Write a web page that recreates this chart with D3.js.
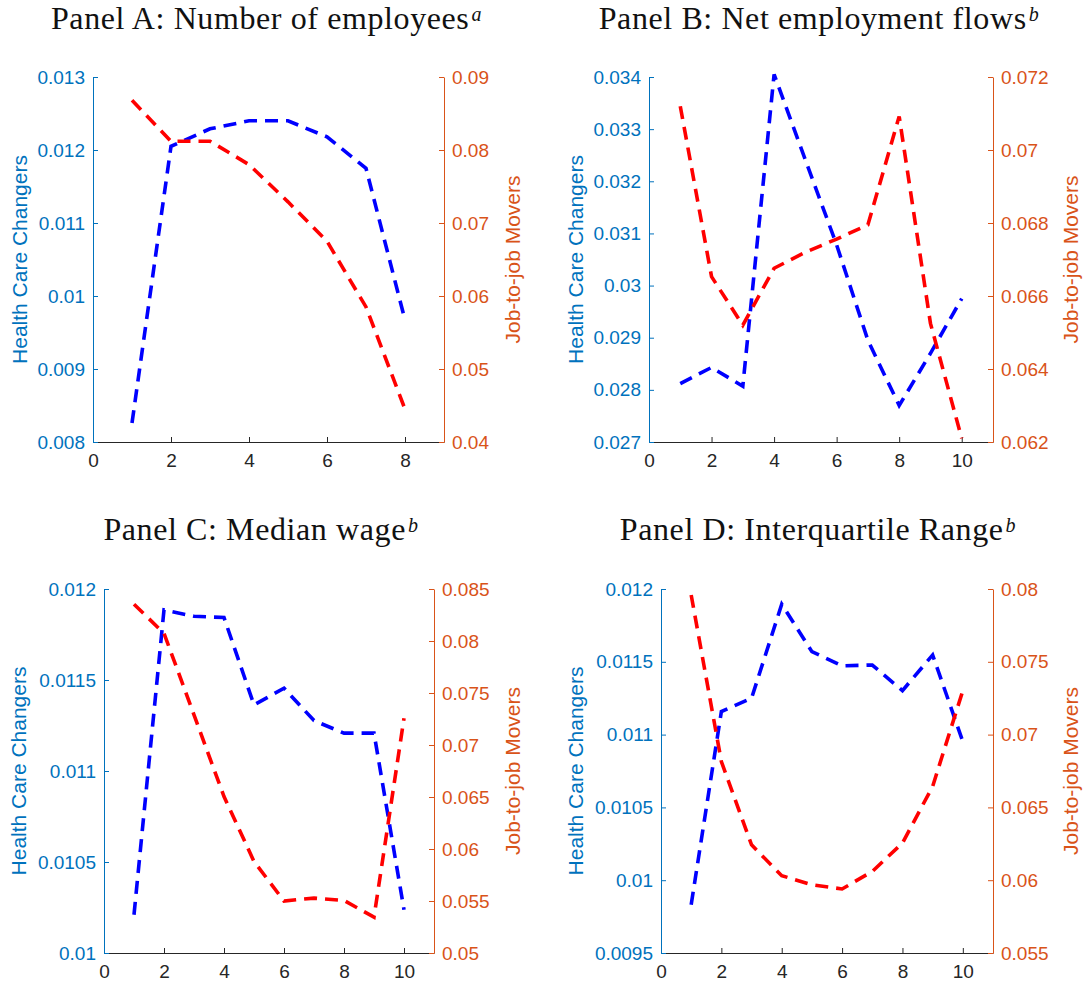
<!DOCTYPE html>
<html>
<head>
<meta charset="utf-8">
<script src="https://cdn.jsdelivr.net/npm/d3@7"></script>
<style>
  body { margin: 0; background: #fff; }
  svg { display: block; }
</style>
</head>
<body>
<svg id="chart" width="1087" height="989"></svg>
<script>
// ---- Data -------------------------------------------------------------
// Panel A: number of employees (groups 1..8)
const xA = [1, 2, 3, 4, 5, 6, 7, 8];
const healthA = [0.00826, 0.01205, 0.01229, 0.01240, 0.01240, 0.01218, 0.01175, 0.00967];
const moversA = [0.0868, 0.0812, 0.0812, 0.0780, 0.0729, 0.0675, 0.0585, 0.0445];

// Panel B: net employment flows (groups 1..10)
const xB = [1, 2, 3, 4, 5, 6, 7, 8, 9, 10];
const healthB = [0.02812, 0.02843, 0.02807, 0.03405, 0.03241, 0.03078, 0.02895, 0.02770, 0.02870, 0.02975];
const moversB = [0.0712, 0.06653, 0.0652, 0.06676, 0.0672, 0.06756, 0.06795, 0.07092, 0.06525, 0.0621];

// Panel C: median wage (groups 1..10)
const xC = [1, 2, 3, 4, 5, 6, 7, 8, 9, 10];
const healthC = [0.01021, 0.011885, 0.01185, 0.011843, 0.011363, 0.011455, 0.011277, 0.011208, 0.011208, 0.010238];
const moversC = [0.08353, 0.08074, 0.0729, 0.06504, 0.0588, 0.0550, 0.05528, 0.05505, 0.05345, 0.07257];

// Panel D: interquartile range (groups 1..10)
const xD = [1, 2, 3, 4, 5, 6, 7, 8, 9, 10];
const healthD = [0.009832, 0.011158, 0.01125, 0.011895, 0.01157, 0.011472, 0.011478, 0.011302, 0.011547, 0.010952];
const moversD = [0.07959, 0.06815, 0.06243, 0.06031, 0.05969, 0.0594, 0.0606, 0.06255, 0.06644, 0.07302];

// Tick values and labels
const xTicksA = [0, 2, 4, 6, 8];
const xTicksBCD = [0, 2, 4, 6, 8, 10];

const leftTicksA = [0.008, 0.009, 0.010, 0.011, 0.012, 0.013];
const leftLabelsA = ["0.008", "0.009", "0.01", "0.011", "0.012", "0.013"];
const rightTicksA = [0.04, 0.05, 0.06, 0.07, 0.08, 0.09];
const rightLabelsA = ["0.04", "0.05", "0.06", "0.07", "0.08", "0.09"];

const leftTicksB = [0.027, 0.028, 0.029, 0.030, 0.031, 0.032, 0.033, 0.034];
const leftLabelsB = ["0.027", "0.028", "0.029", "0.03", "0.031", "0.032", "0.033", "0.034"];
const rightTicksB = [0.062, 0.064, 0.066, 0.068, 0.070, 0.072];
const rightLabelsB = ["0.062", "0.064", "0.066", "0.068", "0.07", "0.072"];

const leftTicksC = [0.010, 0.0105, 0.011, 0.0115, 0.012];
const leftLabelsC = ["0.01", "0.0105", "0.011", "0.0115", "0.012"];
const rightTicksC = [0.05, 0.055, 0.06, 0.065, 0.07, 0.075, 0.08, 0.085];
const rightLabelsC = ["0.05", "0.055", "0.06", "0.065", "0.07", "0.075", "0.08", "0.085"];

const leftTicksD = [0.0095, 0.010, 0.0105, 0.011, 0.0115, 0.012];
const leftLabelsD = ["0.0095", "0.01", "0.0105", "0.011", "0.0115", "0.012"];
const rightTicksD = [0.055, 0.06, 0.065, 0.07, 0.075, 0.08];
const rightLabelsD = ["0.055", "0.06", "0.065", "0.07", "0.075", "0.08"];

// ---- Styling ------------------------------------------------------------
const LEFT_AXIS_COLOR = "#0072BD";
const RIGHT_AXIS_COLOR = "#D95319";
const X_AXIS_COLOR = "#262626";
const HEALTH_LINE = "#0000FF";
const MOVERS_LINE = "#FF0000";
const SANS = "'Liberation Sans', Arial, Helvetica, sans-serif";
const SERIF = "'Liberation Serif', 'Times New Roman', serif";

const svg = d3.select("#chart");

function drawPanel(p) {
  const g = svg.append("g");
  const x = d3.scaleLinear().domain(p.xDomain).range([p.left, p.right]);
  const yL = d3.scaleLinear().domain(p.leftDomain).range([p.bottom, p.top]);
  const yR = d3.scaleLinear().domain(p.rightDomain).range([p.bottom, p.top]);

  // Axes (ticks point inward, MATLAB style)
  const axL = d3.axisLeft(yL).tickValues(p.leftTicks)
    .tickFormat((d, i) => p.leftLabels[i]).tickSizeInner(-5).tickSizeOuter(0).tickPadding(8);
  const axR = d3.axisRight(yR).tickValues(p.rightTicks)
    .tickFormat((d, i) => p.rightLabels[i]).tickSizeInner(-5).tickSizeOuter(0).tickPadding(8);
  const axX = d3.axisBottom(x).tickValues(p.xTicks)
    .tickFormat(d3.format("d")).tickSizeInner(-5).tickSizeOuter(0).tickPadding(9);

  function style(sel, color) {
    sel.selectAll("path").attr("stroke", color).attr("stroke-width", 1);
    sel.selectAll("line").attr("stroke", color).attr("stroke-width", 1);
    sel.selectAll("text").attr("fill", color)
      .style("font-family", SANS).style("font-size", "19px");
  }

  const gx = g.append("g").attr("transform", `translate(0,${p.bottom})`).call(axX);
  style(gx, X_AXIS_COLOR);
  gx.selectAll("text").attr("dy", "0.85em");
  const gl = g.append("g").attr("transform", `translate(${p.left},0)`).call(axL);
  style(gl, LEFT_AXIS_COLOR);
  const gr = g.append("g").attr("transform", `translate(${p.right},0)`).call(axR);
  style(gr, RIGHT_AXIS_COLOR);

  // Axis titles
  const midY = (p.top + p.bottom) / 2;
  g.append("text")
    .attr("transform", `translate(${p.leftLabelX},${midY}) rotate(-90)`)
    .attr("text-anchor", "middle").attr("dominant-baseline", "central")
    .attr("fill", LEFT_AXIS_COLOR).style("font-family", SANS).style("font-size", "21px")
    .text("Health Care Changers");
  g.append("text")
    .attr("transform", `translate(${p.rightLabelX},${midY}) rotate(-90)`)
    .attr("text-anchor", "middle").attr("dominant-baseline", "central")
    .attr("fill", RIGHT_AXIS_COLOR).style("font-family", SANS).style("font-size", "21px")
    .text("Job-to-job Movers");

  // Series
  const lineL = d3.line().x((d, i) => x(p.xs[i])).y(d => yL(d));
  const lineR = d3.line().x((d, i) => x(p.xs[i])).y(d => yR(d));
  g.append("path").datum(p.health).attr("d", lineL)
    .attr("fill", "none").attr("stroke", HEALTH_LINE).attr("stroke-width", 3.6)
    .attr("stroke-dasharray", "13 8");
  g.append("path").datum(p.movers).attr("d", lineR)
    .attr("fill", "none").attr("stroke", MOVERS_LINE).attr("stroke-width", 3.6)
    .attr("stroke-dasharray", "13 8");

  // Panel title with superscript note marker
  const t = g.append("text")
    .attr("x", (p.left + p.right) / 2 + p.titleShift).attr("y", p.titleY)
    .attr("text-anchor", "middle").attr("fill", "#111")
    .style("font-family", SERIF).style("font-size", "32px")
    .style("letter-spacing", "0.6px");
  t.append("tspan").text(p.title);
  t.append("tspan").attr("dy", "-8").attr("dx", "2").style("font-size", "20px")
    .style("font-style", "italic").text(p.note);
}

drawPanel({
  left: 93, right: 444, top: 77, bottom: 442, titleY: 29, titleShift: -2,
  xDomain: [0, 9], xTicks: xTicksA, xs: xA,
  leftDomain: [0.008, 0.013], leftTicks: leftTicksA, leftLabels: leftLabelsA,
  rightDomain: [0.04, 0.09], rightTicks: rightTicksA, rightLabels: rightLabelsA,
  health: healthA, movers: moversA, leftLabelX: 19, rightLabelX: 512,
  title: "Panel A: Number of employees", note: "a"
});
drawPanel({
  left: 649, right: 993, top: 77, bottom: 442, titleY: 29, titleShift: -2,
  xDomain: [0, 11], xTicks: xTicksBCD, xs: xB,
  leftDomain: [0.027, 0.034], leftTicks: leftTicksB, leftLabels: leftLabelsB,
  rightDomain: [0.062, 0.072], rightTicks: rightTicksB, rightLabels: rightLabelsB,
  health: healthB, movers: moversB, leftLabelX: 575, rightLabelX: 1070,
  title: "Panel B: Net employment flows", note: "b"
});
drawPanel({
  left: 104, right: 434, top: 589, bottom: 953, titleY: 540, titleShift: -8,
  xDomain: [0, 11], xTicks: xTicksBCD, xs: xC,
  leftDomain: [0.010, 0.012], leftTicks: leftTicksC, leftLabels: leftLabelsC,
  rightDomain: [0.05, 0.085], rightTicks: rightTicksC, rightLabels: rightLabelsC,
  health: healthC, movers: moversC, leftLabelX: 18, rightLabelX: 512,
  title: "Panel C: Median wage", note: "b"
});
drawPanel({
  left: 661, right: 993, top: 589, bottom: 953, titleY: 540, titleShift: -9,
  xDomain: [0, 11], xTicks: xTicksBCD, xs: xD,
  leftDomain: [0.0095, 0.012], leftTicks: leftTicksD, leftLabels: leftLabelsD,
  rightDomain: [0.055, 0.08], rightTicks: rightTicksD, rightLabels: rightLabelsD,
  health: healthD, movers: moversD, leftLabelX: 575, rightLabelX: 1070,
  title: "Panel D: Interquartile Range", note: "b"
});
</script>
</body>
</html>
